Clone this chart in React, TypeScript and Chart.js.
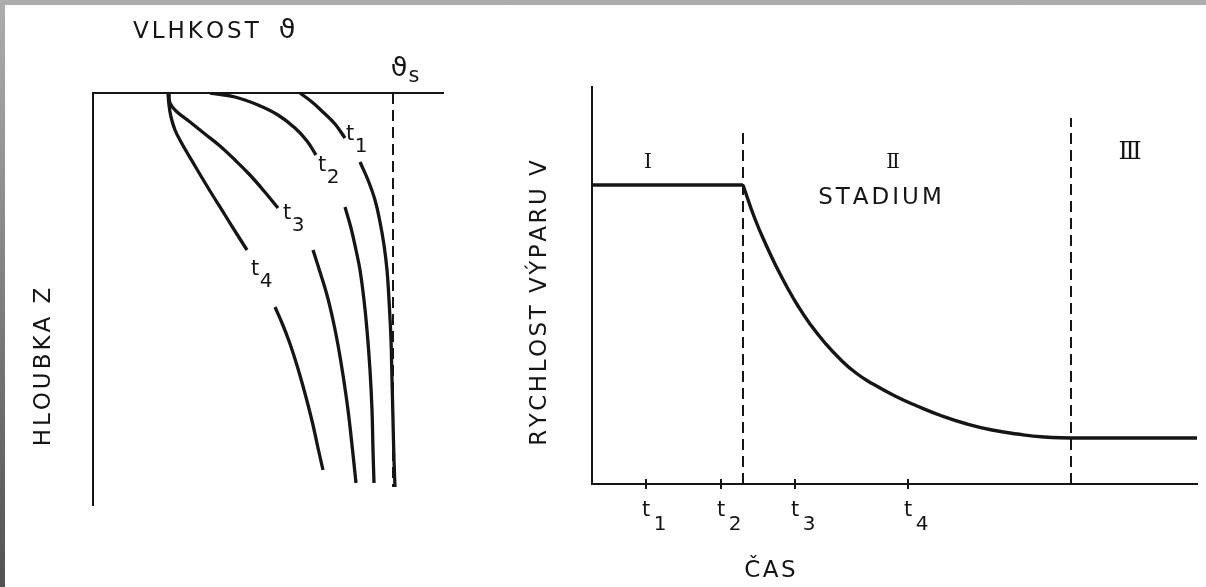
import React, { useEffect, useRef } from "react";
import { Chart, registerables } from "chart.js";

Chart.register(...registerables);

const W = 1206;
const H = 587;
const FONT = '"DejaVu Sans", sans-serif';
const INK = "#151515";

// ---------- Left panel: moisture profiles θ(z) at times t1..t4 ----------
const thetaSat = 300;
const depthBottom = 394;
const t1Theta = [207, 219, 231, 242, 252, null, 267, 275, 282, 287, 291, 294, 296, 298, 299, 300, 301, 302];
const t1Depth = [0, 9, 20, 31, 45, null, 69, 87, 107, 129, 152, 177, 207, 247, 287, 327, 367, 394];
const t2Theta = [117, 142, 165, 185, 202, 214, 223, null, 252, 258, 263, 267, 271, 274, 277, 279, 280, 281];
const t2Depth = [0, 4, 12, 22, 35, 48, 62, null, 114, 135, 157, 177, 207, 237, 277, 317, 357, 390];
const t3Theta = [76, 77, 83, 97, 112, 127, 142, 157, 171, 185, null, 220, 227, 234, 240, 245, 250, 255, 259, 263];
const t3Depth = [0, 10, 18, 29, 41, 53, 67, 82, 98, 115, null, 157, 179, 202, 227, 252, 282, 317, 352, 390];
const t4Theta = [75, 76, 78, 82, 88, 102, 117, 132, 147, 154, null, 182, 189, 196, 202, 208, 214, 220, 225, 230];
const t4Depth = [0, 12, 24, 37, 49, 73, 98, 122, 146, 157, null, 214, 230, 248, 266, 286, 308, 332, 355, 377];
const profileLabels = ["1", "2", "3", "4"];
const profileLabelTheta = [257, 229, 194, 162];
const profileLabelDepth = [42, 73, 121, 177];

// ---------- Right panel: evaporation rate vs time ----------
const stageITime = [0, 151];
const stageIRate = [299, 299];
const stageIITime = [151, 163, 175, 185, 195, 206, 218, 233, 248, 264, 281, 303, 325, 350, 375, 400, 425, 452, 479];
const stageIIRate = [299, 265, 237, 216, 197, 178, 160, 141, 125, 111, 100, 88, 78, 68, 60, 54, 50, 47, 46];
const stageIIITime = [479, 605];
const stageIIIRate = [46, 46];
const boundaryTime = [151, 479];
const boundaryTop = [357, 366];
const timeTicks = [54, 129, 203, 316];
const timeTickLabels = ["1", "2", "3", "4"];
const stageNames = ["Ⅰ", "Ⅱ", "Ⅲ"];
const stageNameTime = [56, 301, 538];
const stageNameRate = [321, 321, 331];

function pts(xs: (number | null)[], ys: (number | null)[]) {
  return xs.map((x, i) => (x === null || ys[i] === null ? { x: xs[i - 1] as number, y: null } : { x, y: ys[i] }));
}

function spaced(ctx: CanvasRenderingContext2D, text: string, x: number, y: number, sp: number, align: "left" | "center") {
  const chars = [...text];
  const ws = chars.map((c) => ctx.measureText(c).width);
  const total = ws.reduce((a, b) => a + b, 0) + sp * (chars.length - 1);
  let cx = align === "center" ? x - total / 2 : x;
  ctx.textAlign = "left";
  chars.forEach((c, i) => {
    ctx.fillText(c, cx, y);
    cx += ws[i] + sp;
  });
}

function rotated(ctx: CanvasRenderingContext2D, text: string, cx: number, cy: number, sp: number) {
  ctx.save();
  ctx.translate(cx, cy);
  ctx.rotate(-Math.PI / 2);
  spaced(ctx, text, 0, 0, sp, "center");
  ctx.restore();
}

const curve = (data: any, width = 3.3, dash: number[] = [], tension = 0.4) => ({
  data,
  showLine: true,
  borderColor: INK,
  borderWidth: width,
  borderDash: dash,
  pointRadius: 0,
  tension: dash.length ? 0 : tension,
  spanGaps: false,
  borderCapStyle: "butt" as const,
  borderJoinStyle: "round" as const,
});

const axisOpts = (extra: any) => ({
  type: "linear",
  grid: { display: false, drawTicks: false },
  ticks: { display: false },
  border: { display: true, color: INK, width: 2 },
  ...extra,
});

export default function App() {
  const leftRef = useRef<HTMLCanvasElement>(null);
  const rightRef = useRef<HTMLCanvasElement>(null);

  useEffect(() => {
    const leftText = {
      id: "leftText",
      afterDraw(chart: any) {
        const ctx = chart.ctx as CanvasRenderingContext2D;
        const xs = chart.scales.x;
        const ys = chart.scales.y;
        ctx.save();
        ctx.fillStyle = INK;
        ctx.textBaseline = "middle";
        ctx.font = `23px ${FONT}`;
        spaced(ctx, "VLHKOST", 133, 32, 3, "left");
        ctx.font = `27px ${FONT}`;
        spaced(ctx, "ϑ", 287, 31, 0, "center");
        ctx.font = `23px ${FONT}`;
        rotated(ctx, "HLOUBKA Z", 44, 367, 3);
        // θs label
        const sx = xs.getPixelForValue(thetaSat);
        ctx.font = `27px ${FONT}`;
        spaced(ctx, "ϑ", sx + 6, 69, 0, "center");
        ctx.font = `21px ${FONT}`;
        spaced(ctx, "s", sx + 21, 77, 0, "center");
        // profile labels
        profileLabels.forEach((lab, i) => {
          const px = xs.getPixelForValue(profileLabelTheta[i]);
          const py = ys.getPixelForValue(profileLabelDepth[i]);
          ctx.font = `21px ${FONT}`;
          spaced(ctx, "t", px, py, 0, "center");
          ctx.font = `20px ${FONT}`;
          spaced(ctx, lab, px + 11, py + 12, 0, "center");
        });
        ctx.restore();
      },
    };

    const rightText = {
      id: "rightText",
      afterDraw(chart: any) {
        const ctx = chart.ctx as CanvasRenderingContext2D;
        const xs = chart.scales.x;
        const ys = chart.scales.y;
        const base = chart.chartArea.bottom;
        ctx.save();
        ctx.strokeStyle = INK;
        ctx.lineWidth = 2;
        timeTicks.forEach((t) => {
          const px = Math.round(xs.getPixelForValue(t));
          ctx.beginPath();
          ctx.moveTo(px, base - 5);
          ctx.lineTo(px, base + 5);
          ctx.stroke();
        });
        ctx.fillStyle = INK;
        ctx.textBaseline = "middle";
        timeTicks.forEach((t, i) => {
          const px = xs.getPixelForValue(t);
          ctx.font = `21px ${FONT}`;
          spaced(ctx, "t", px, base + 27, 0, "center");
          ctx.font = `20px ${FONT}`;
          spaced(ctx, timeTickLabels[i], px + 14, base + 41, 0, "center");
        });
        ctx.font = `23px ${FONT}`;
        spaced(ctx, "ČAS", 770, 571, 2.5, "center");
        rotated(ctx, "RYCHLOST VÝPARU V", 540, 303, 2.5);
        spaced(ctx, "STADIUM", 880, 198, 3, "center");
        stageNames.forEach((s, i) => {
          ctx.font = `${i === 2 ? 24 : 20}px "DejaVu Serif", ${FONT}`;
          spaced(ctx, s, xs.getPixelForValue(stageNameTime[i]), ys.getPixelForValue(stageNameRate[i]), 0, "center");
        });
        ctx.restore();
      },
    };

    const left = new Chart(leftRef.current!, {
      type: "scatter",
      data: {
        datasets: [
          curve(pts([thetaSat, thetaSat], [0, depthBottom]), 2, [11, 6]),
          curve(pts(t1Theta, t1Depth)),
          curve(pts(t2Theta, t2Depth)),
          curve(pts(t3Theta, t3Depth)),
          curve(pts(t4Theta, t4Depth)),
        ],
      },
      options: {
        animation: false,
        responsive: false,
        events: [],
        layout: { padding: { left: 93, top: 93, right: W - 443, bottom: H - 505 } },
        plugins: { legend: { display: false }, tooltip: { enabled: false } },
        scales: {
          x: axisOpts({ position: "top", min: 0, max: 350 }),
          y: axisOpts({ position: "left", min: 0, max: 412, reverse: true }),
        },
      } as any,
      plugins: [leftText],
    });

    const right = new Chart(rightRef.current!, {
      type: "scatter",
      data: {
        datasets: [
          curve(pts([boundaryTime[0], boundaryTime[0]], [0, boundaryTop[0]]), 2, [11, 6]),
          curve(pts([boundaryTime[1], boundaryTime[1]], [0, boundaryTop[1]]), 2, [11, 6]),
          curve(pts(stageITime, stageIRate), 3.4),
          curve(pts(stageIITime, stageIIRate), 3.4, [], 0.5),
          curve(pts(stageIIITime, stageIIIRate), 3.4),
        ],
      },
      options: {
        animation: false,
        responsive: false,
        events: [],
        layout: { padding: { left: 592, top: 87, right: W - 1197, bottom: H - 484 } },
        plugins: { legend: { display: false }, tooltip: { enabled: false } },
        scales: {
          x: axisOpts({ position: "bottom", min: 0, max: 605 }),
          y: axisOpts({ position: "left", min: 0, max: 397 }),
        },
      } as any,
      plugins: [rightText],
    });

    return () => {
      left.destroy();
      right.destroy();
    };
  }, []);

  const canvasStyle: React.CSSProperties = { position: "absolute", left: 0, top: 0, width: W, height: H };
  return (
    <div style={{ position: "fixed", left: 0, top: 0, width: W, height: H, background: "linear-gradient(#adadad, #525252)", overflow: "hidden" }}>
      <div style={{ position: "absolute", left: 5, top: 5, right: 0, bottom: 0, background: "#ffffff" }} />
      <canvas ref={leftRef} width={W} height={H} style={canvasStyle} />
      <canvas ref={rightRef} width={W} height={H} style={canvasStyle} />
    </div>
  );
}
